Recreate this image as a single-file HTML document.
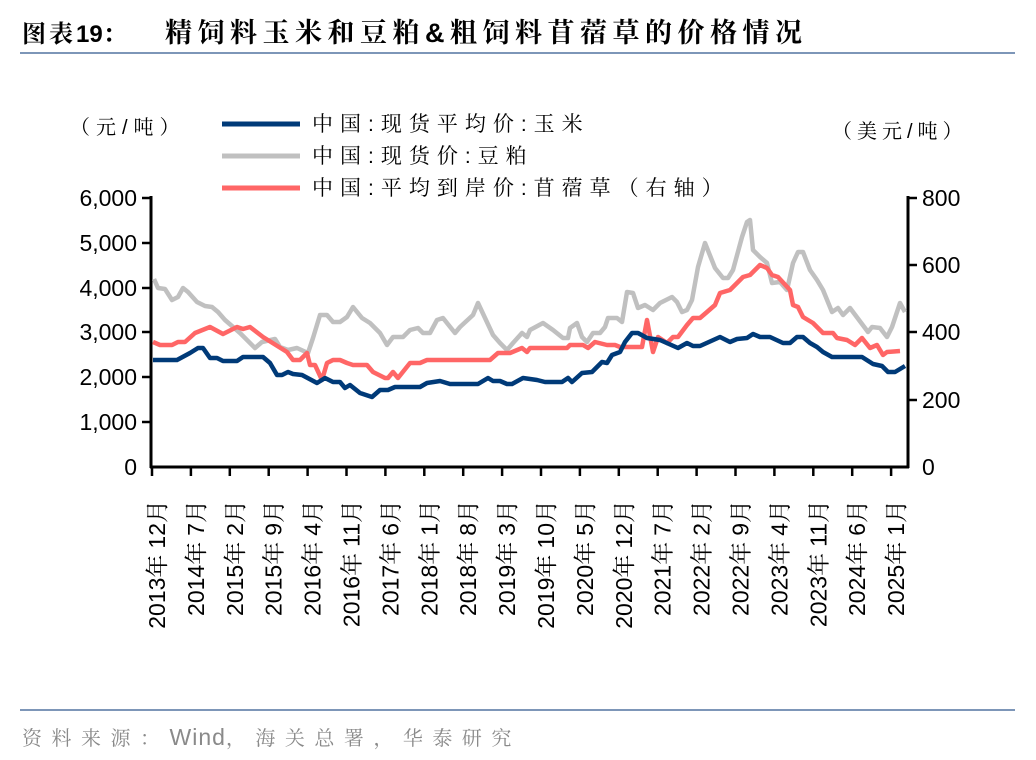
<!DOCTYPE html>
<html><head><meta charset="utf-8"><style>
body{margin:0;background:#fff;}
svg{display:block;font-family:"Liberation Sans","Noto Serif CJK SC",serif;}
</style></head><body>
<svg width="1036" height="760" viewBox="0 0 1036 760">
<text x="22" y="42" font-size="24" font-weight="bold" fill="#000"><tspan letter-spacing="3">图表</tspan><tspan>19</tspan><tspan>：</tspan></text>
<text x="165" y="42" font-size="27" font-weight="bold" fill="#000" letter-spacing="5.5">精饲料玉米和豆粕&amp;粗饲料苜蓿草的价格情况</text>
<line x1="20" y1="53" x2="1015" y2="53" stroke="#7d96b8" stroke-width="2"/>
<line x1="20" y1="710" x2="1015" y2="710" stroke="#7d96b8" stroke-width="2"/>
<text x="22" y="745" font-size="20" fill="#8a8a8a"><tspan letter-spacing="9.5">资料来源：</tspan><tspan font-size="23" letter-spacing="1">Wind</tspan><tspan letter-spacing="9.5">，海关总署，华泰研究</tspan></text>

<text x="70" y="134" font-size="20" letter-spacing="6">（元/吨）</text>
<text x="832" y="138" font-size="20" letter-spacing="5">（美元/吨）</text>

<g stroke-width="5">
<line x1="222" y1="124" x2="300" y2="124" stroke="#003a78"/>
<line x1="222" y1="156" x2="300" y2="156" stroke="#c0c0c0"/>
<line x1="222" y1="188" x2="300" y2="188" stroke="#ff6666"/>
</g>
<g font-size="21" letter-spacing="7">
<text x="312" y="131">中国:现货平均价:玉米</text>
<text x="312" y="163">中国:现货价:豆粕</text>
<text x="312" y="195">中国:平均到岸价:苜蓿草（右轴）</text>
</g>

<g stroke="#000" stroke-width="3">
<line x1="151" y1="196" x2="151" y2="468"/>
<line x1="908" y1="196" x2="908" y2="468"/>
<line x1="150" y1="467" x2="909" y2="467"/>
</g>
<g stroke="#000" stroke-width="2.5">
<line x1="142" y1="198" x2="151" y2="198"/>
<line x1="142" y1="243" x2="151" y2="243"/>
<line x1="142" y1="288" x2="151" y2="288"/>
<line x1="142" y1="332" x2="151" y2="332"/>
<line x1="142" y1="377" x2="151" y2="377"/>
<line x1="142" y1="422" x2="151" y2="422"/>
<line x1="908" y1="198" x2="917" y2="198"/>
<line x1="908" y1="265" x2="917" y2="265"/>
<line x1="908" y1="332" x2="917" y2="332"/>
<line x1="908" y1="400" x2="917" y2="400"/>
</g>
<g font-size="23" text-anchor="end">
<text x="137" y="206">6,000</text>
<text x="137" y="251">5,000</text>
<text x="137" y="296">4,000</text>
<text x="137" y="340">3,000</text>
<text x="137" y="385">2,000</text>
<text x="137" y="430">1,000</text>
<text x="137" y="475">0</text>
</g>
<g font-size="23">
<text x="922" y="206">800</text>
<text x="922" y="273">600</text>
<text x="922" y="340">400</text>
<text x="922" y="408">200</text>
<text x="922" y="475">0</text>
</g>

<g id="xt" stroke="#000" stroke-width="2.5"></g>
<g id="xl" font-size="23" text-anchor="end"></g>

<polyline fill="none" stroke="#c0c0c0" stroke-width="4.5" stroke-linejoin="round" points="154,279 158,288 165,289 172,300 178,297 183,288 188,292 197,302 205,306 212,307 218,312 225,320 240,333 255,348 262,342 275,339 280,347 288,350 297,348 308,353 313,338 320,315 327,315 333,322 340,322 347,317 353,307 362,318 370,323 380,333 387,345 393,337 403,337 410,330 418,328 423,333 430,333 437,320 443,318 455,333 460,327 473,315 478,303 493,335 500,343 507,350 513,343 522,333 527,337 530,330 543,323 553,330 563,338 568,338 570,328 577,323 582,337 587,342 593,333 600,333 605,327 608,318 617,318 622,322 627,292 633,293 638,308 645,305 653,310 660,303 672,297 677,302 682,312 687,310 692,300 698,267 705,243 715,268 723,278 728,278 733,270 742,237 747,222 750,220 753,250 760,257 767,263 772,283 780,282 787,290 793,263 798,252 803,252 810,270 817,280 823,290 832,312 838,308 843,315 850,308 853,312 868,332 872,327 880,328 887,337 892,327 900,303 905,312"/>
<polyline fill="none" stroke="#ff6666" stroke-width="4.5" stroke-linejoin="round" points="153,342 160,345 172,345 178,342 185,342 195,333 210,327 223,334 237,327 243,329 250,327 263,337 287,352 293,360 300,360 307,353 310,365 315,365 322,380 327,363 333,360 340,360 347,363 353,365 367,365 373,372 385,378 388,378 393,372 398,378 410,363 420,363 427,360 490,360 498,353 510,353 522,348 527,352 530,348 567,348 570,345 583,345 588,348 595,342 607,345 615,345 620,347 642,347 647,320 653,352 658,337 667,343 673,337 678,337 687,325 693,318 700,318 707,312 715,305 720,293 730,290 743,277 750,275 760,265 767,268 772,275 778,277 790,290 793,305 798,307 803,317 813,323 823,333 833,333 837,338 847,340 855,345 862,338 870,348 877,345 883,355 887,352 900,351"/>
<polyline fill="none" stroke="#003a78" stroke-width="4.5" stroke-linejoin="round" points="153,360 177,360 190,353 198,348 203,348 210,358 217,358 223,361 237,361 243,357 263,357 270,363 277,375 282,375 288,372 293,374 302,375 317,383 325,378 333,382 340,382 345,388 350,385 360,393 372,397 380,390 388,390 395,387 420,387 427,383 440,381 450,384 478,384 488,378 493,381 500,381 507,384 512,384 523,378 537,380 545,382 562,382 568,378 572,382 582,373 592,372 602,362 607,363 612,355 620,352 625,342 632,333 638,333 647,338 660,340 678,348 687,343 693,346 700,346 720,337 730,342 737,339 747,338 753,334 760,337 770,337 783,343 790,343 797,337 803,337 810,343 817,347 823,352 832,357 862,357 873,364 882,366 888,372 895,372 905,366"/>
</svg>
<script>
var labs=["2013年12月","2014年7月","2015年2月","2015年9月","2016年4月","2016年11月","2017年6月","2018年1月","2018年8月","2019年3月","2019年10月","2020年5月","2020年12月","2021年7月","2022年2月","2022年9月","2023年4月","2023年11月","2024年6月","2025年1月"];
var ns="http://www.w3.org/2000/svg",xt=document.getElementById("xt"),xl=document.getElementById("xl");
for(var i=0;i<labs.length;i++){var x=152+38.9*i;
var l=document.createElementNS(ns,"line");l.setAttribute("x1",x);l.setAttribute("x2",x);l.setAttribute("y1",467);l.setAttribute("y2",476);xt.appendChild(l);
var t=document.createElementNS(ns,"text");var tx=x+13,ty=494;t.setAttribute("x",tx);t.setAttribute("y",ty);t.setAttribute("transform","rotate(-90 "+tx+" "+ty+")");
var parts=labs[i].match(/[0-9]+|[^0-9]+/g);
for(var j=0;j<parts.length;j++){var s=document.createElementNS(ns,"tspan");s.textContent=parts[j];
if(/[^0-9]/.test(parts[j])){s.setAttribute("letter-spacing","6");}
t.appendChild(s);}
xl.appendChild(t);}
</script>
</body></html>
